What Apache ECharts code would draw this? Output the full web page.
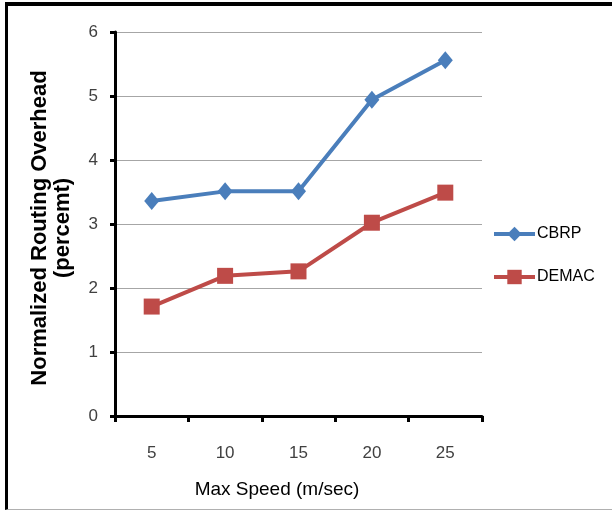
<!DOCTYPE html>
<html>
<head>
<meta charset="utf-8">
<script src="https://cdn.jsdelivr.net/npm/echarts@6/dist/echarts.min.js"></script>
<style>
html,body{margin:0;padding:0;background:#fff;}
#frame{position:absolute;left:5px;top:2px;width:607px;height:508px;border-top:4px solid #000;border-left:3px solid #000;border-bottom:1px solid #b0b0b0;box-sizing:border-box;}
#chart{position:absolute;left:0;top:0;width:612px;height:511px;}
</style>
</head>
<body>
<div id="frame"></div>
<div id="chart"></div>
<script>
var categories = ['5', '10', '15', '20', '25'];
var cbrp = [3.36, 3.51, 3.51, 4.94, 5.56];
var demac = [1.71, 2.19, 2.26, 3.02, 3.49];
var yTicks = [0, 1, 2, 3, 4, 5, 6];

var chart = echarts.init(document.getElementById('chart'), null, {renderer: 'canvas'});
var font = 'Liberation Sans';
chart.setOption({
  backgroundColor: 'transparent',
  animation: false,
  grid: {left: 115, right: 130, top: 32, bottom: 95, containLabel: false},
  legend: {
    orient: 'vertical',
    left: 487,
    top: 221,
    itemWidth: 41,
    itemHeight: 18,
    itemGap: 27,
    lineStyle: {width: 4},
    textStyle: {fontFamily: font, fontSize: 16, color: '#000', padding: [0, 0, 0, -3]},
    data: ['CBRP', 'DEMAC']
  },
  xAxis: {
    type: 'category',
    data: categories,
    boundaryGap: true,
    name: 'Max Speed (m/sec)',
    nameLocation: 'middle',
    nameGap: 64,
    nameTextStyle: {fontFamily: font, fontSize: 19, color: '#000', padding: [0, 43, 0, 0]},
    axisLine: {lineStyle: {color: '#000', width: 3}},
    axisTick: {show: true, length: 6, lineStyle: {color: '#000', width: 3}, alignWithLabel: false},
    axisLabel: {fontFamily: font, fontSize: 17, color: '#404040', margin: 29},
    splitLine: {show: false}
  },
  yAxis: {
    type: 'value',
    min: yTicks[0],
    max: yTicks[yTicks.length - 1],
    interval: 1,
    name: 'Normalized Routing Overhead\n(percemt)',
    nameLocation: 'middle',
    nameRotate: 90,
    nameGap: 41,
    nameTextStyle: {fontFamily: font, fontSize: 22, fontWeight: 'bold', color: '#000', lineHeight: 23, padding: [0, 8, 0, 0]},
    axisLine: {show: true, lineStyle: {color: '#000', width: 3}},
    axisTick: {show: true, length: 5, lineStyle: {color: '#000', width: 3}},
    axisLabel: {fontFamily: font, fontSize: 17, color: '#404040', margin: 17},
    splitLine: {show: true, lineStyle: {color: '#a6a6a6', width: 1}}
  },
  series: [
    {
      name: 'CBRP',
      type: 'line',
      data: cbrp,
      symbol: 'diamond',
      symbolSize: [15, 18],
      lineStyle: {color: '#4a7ebb', width: 4},
      itemStyle: {color: '#4a7ebb'}
    },
    {
      name: 'DEMAC',
      type: 'line',
      data: demac,
      symbol: 'rect',
      symbolSize: 16,
      lineStyle: {color: '#be4b48', width: 4},
      itemStyle: {color: '#be4b48'}
    }
  ]
});
</script>
</body>
</html>
